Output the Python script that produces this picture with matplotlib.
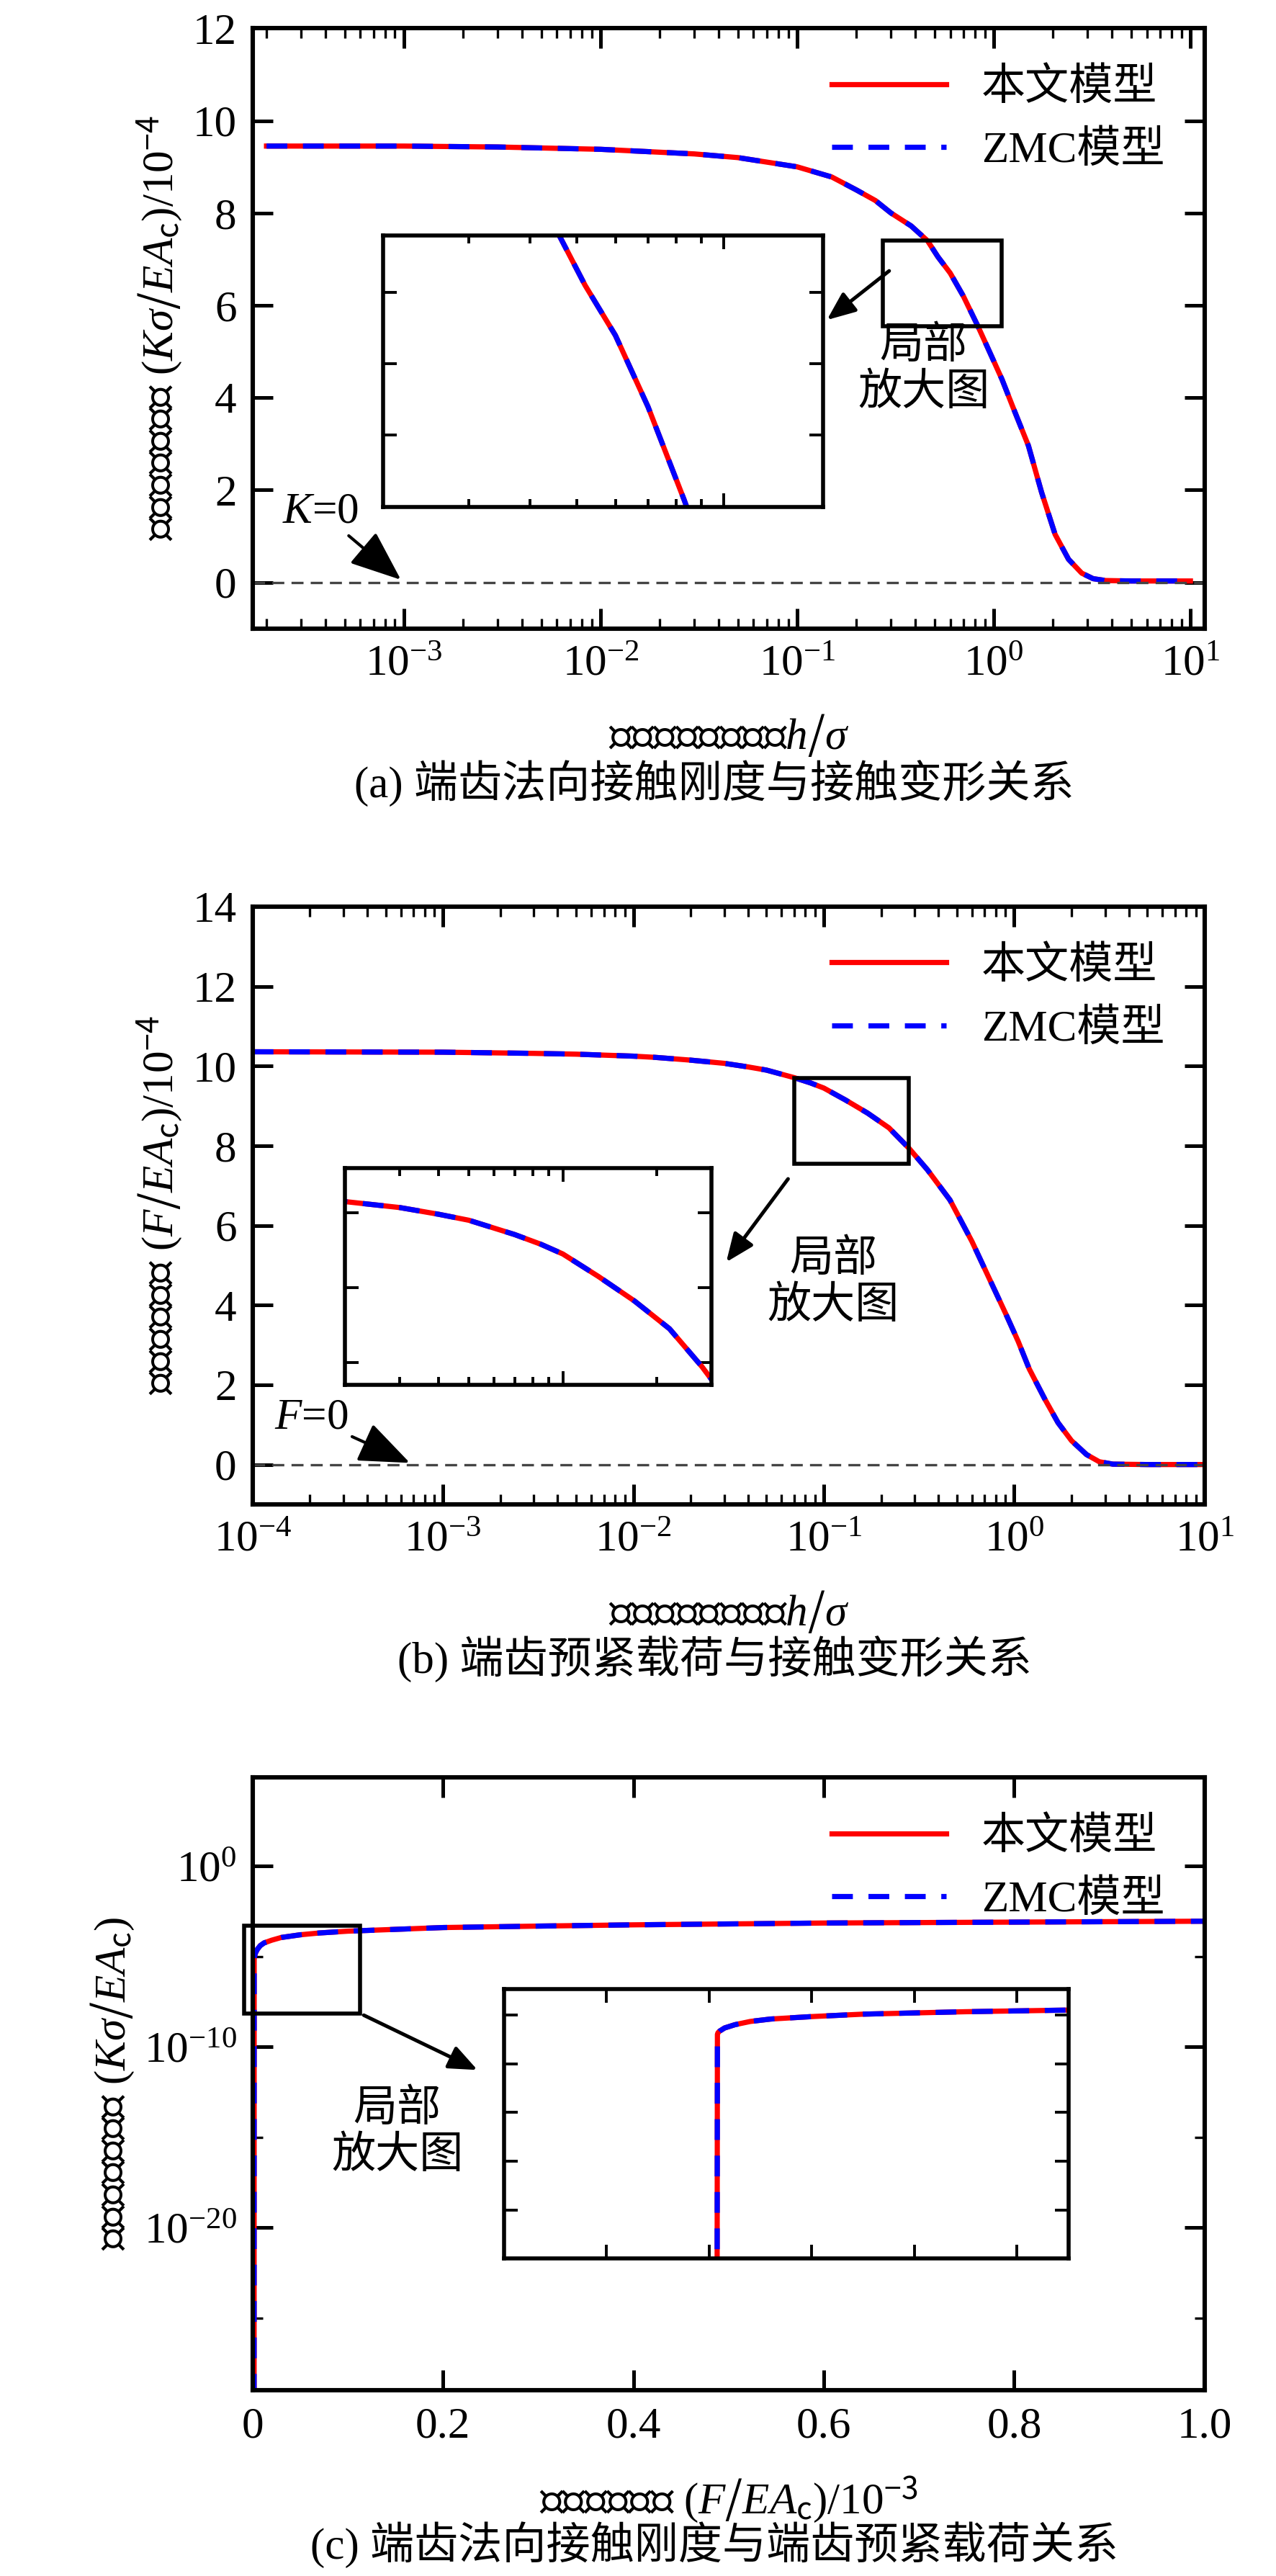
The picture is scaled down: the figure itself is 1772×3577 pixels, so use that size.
import matplotlib.pyplot as plt
import numpy as np

plt.rcParams['font.family'] = ['Liberation Serif', 'Noto Sans CJK SC']
plt.rcParams['mathtext.fontset'] = 'custom'
plt.rcParams['mathtext.rm'] = 'Noto Sans CJK SC'
plt.rcParams['mathtext.it'] = 'Liberation Serif:italic'
plt.rcParams['mathtext.bf'] = 'Liberation Serif:bold'
plt.rcParams['axes.unicode_minus'] = False

# --- data ---
h_a = [2e-4, 1e-3, 3e-3, 1e-2, 3e-2, 0.05, 0.1, 0.15, 0.2, 0.25, 0.3, 0.38, 0.46, 0.52, 0.6, 0.7,
       0.83, 0.95, 1.1, 1.25, 1.5, 1.75, 2.05, 2.4, 2.8, 3.2, 3.7, 5.0, 10.0]
K_a = [9.45, 9.45, 9.43, 9.38, 9.28, 9.2, 9.0, 8.78, 8.5, 8.27, 8.0, 7.72, 7.4, 7.05, 6.7, 6.2,
       5.55, 5.0, 4.4, 3.8, 2.96, 1.95, 1.04, 0.5, 0.2, 0.08, 0.04, 0.03, 0.03]

h_b = [1e-4, 1e-3, 3e-3, 5e-3, 1e-2, 0.013, 0.02, 0.03, 0.04, 0.05, 0.07, 0.085, 0.1, 0.13, 0.17,
       0.22, 0.28, 0.35, 0.46, 0.6, 0.76, 0.9, 1.05, 1.2, 1.45, 1.7, 2.0, 2.4, 2.8, 3.3, 5.0, 10.0]
F_b = [10.36, 10.35, 10.32, 10.3, 10.25, 10.22, 10.15, 10.07, 9.98, 9.9, 9.71, 9.58, 9.45, 9.15, 8.82,
       8.45, 7.94, 7.4, 6.64, 5.6, 4.55, 3.8, 3.09, 2.4, 1.64, 1.05, 0.6, 0.25, 0.07, 0.01, 0.0, 0.0]

F_c = [0.0, 0.0015, 0.0016, 0.0017, 0.002, 0.003, 0.005, 0.008, 0.012, 0.02, 0.03, 0.05, 0.07,
       0.1, 0.15, 0.2, 0.3, 0.4, 0.6, 0.8, 1.0]
logK_c = [-40, -30, -5.2, -5.1, -5.0, -4.8, -4.6, -4.4, -4.25, -4.1, -3.95, -3.8, -3.7,
          -3.6, -3.5, -3.4, -3.32, -3.25, -3.15, -3.1, -3.05]
K_c = [10.0 ** v for v in logK_c]

labels = ['本文模型', 'ZMC模型']
captions = ['(a) 端齿法向接触刚度与接触变形关系',
            '(b) 端齿预紧载荷与接触变形关系',
            '(c) 端齿法向接触刚度与端齿预紧载荷关系']

FS = 22
LW = 2.6


def two_curves(ax, x, y):
    ax.plot(x, y, color='red', lw=LW, label=labels[0])
    ax.plot(x, y, color='blue', lw=LW, ls=(0, (4, 3)), label=labels[1])


def style(ax, fs=FS, lw=2.2):
    ax.tick_params(which='both', direction='in', top=True, right=True, labelsize=fs)
    ax.tick_params(which='major', length=10, width=1.8, pad=8)
    ax.tick_params(which='minor', length=5, width=1.2)
    for s in ax.spines.values():
        s.set_linewidth(lw)


def inset(ax, rect, x, y, xlim, ylim, xlog=False, ylog=False):
    ia = ax.inset_axes(rect)
    two_curves(ia, x, y)
    if xlog:
        ia.set_xscale('log')
    if ylog:
        ia.set_yscale('log')
    ia.set_xlim(*xlim)
    ia.set_ylim(*ylim)
    ia.tick_params(which='both', direction='in', top=True, right=True,
                   labelbottom=False, labelleft=False, length=7, width=1.4)
    ia.tick_params(which='minor', length=4)
    for s in ia.spines.values():
        s.set_linewidth(2)
    return ia


def arrow(ax, xy, xytext):
    ax.annotate('', xy=xy, xycoords='axes fraction', xytext=xytext,
                arrowprops=dict(arrowstyle='-|>,head_width=0.5,head_length=1.2',
                                color='black', lw=1.8))


fig = plt.figure(figsize=(8.86, 17.885), dpi=200)
L, W = 0.198, 0.746

# ---------- (a) ----------
ax = fig.add_axes([L, 0.756, W, 0.233])
two_curves(ax, h_a, K_a)
ax.axhline(0, color='#444444', lw=1.2, ls=(0, (5, 3)))
ax.set_xscale('log')
ax.set_xlim(1.7e-4, 11.8)
ax.set_ylim(-1, 12)
ax.set_yticks(range(0, 13, 2))
style(ax)
ax.set_ylabel('无量纲接触刚度 ($K\\sigma/EA_{\\rm c}$)/10$^{-4}$', fontsize=FS)
ax.set_xlabel('无量纲接触变形量$h/\\sigma$', fontsize=FS, labelpad=14)
ax.legend(loc='upper right', fontsize=FS, frameon=False, handlelength=2.6)
inset(ax, [0.137, 0.203, 0.462, 0.452], h_a, K_a, (0.2, 1.6), (5.5, 7.4), xlog=True)
ax.add_patch(plt.Rectangle((0.272, 5.55), 1.10 - 0.272, 7.41 - 5.55, fill=False, lw=2, zorder=5))
arrow(ax, (0.6, 0.51), (0.672, 0.6))
ax.text(0.705, 0.43, '局部\n放大图', transform=ax.transAxes, fontsize=FS, ha='center', va='center',
        linespacing=1.2)
ax.annotate('$K$=0', xy=(1.0e-3, 0), xytext=(2.4e-4, 1.3), fontsize=FS,
            arrowprops=dict(arrowstyle='-|>,head_width=0.4,head_length=1.0', color='black', lw=1.5,
                            shrinkA=0, shrinkB=2))

# ---------- (b) ----------
ax = fig.add_axes([L, 0.416, W, 0.232])
two_curves(ax, h_b, F_b)
ax.axhline(0, color='#444444', lw=1.2, ls=(0, (5, 3)))
ax.set_xscale('log')
ax.set_xlim(1e-4, 10)
ax.set_ylim(-1, 14)
ax.set_yticks(range(0, 15, 2))
style(ax)
ax.set_ylabel('无量纲预紧力 ($F/EA_{\\rm c}$)/10$^{-4}$', fontsize=FS)
ax.set_xlabel('无量纲接触变形量$h/\\sigma$', fontsize=FS, labelpad=14)
ax.legend(loc='upper right', fontsize=FS, frameon=False, handlelength=2.6)
inset(ax, [0.097, 0.2, 0.385, 0.363], h_b, F_b, (0.02, 0.3), (7.7, 10.6), xlog=True)
ax.add_patch(plt.Rectangle((0.07, 7.55), 0.28 - 0.07, 9.7 - 7.55, fill=False, lw=2, zorder=5))
arrow(ax, (0.495, 0.4), (0.565, 0.55))
ax.text(0.61, 0.37, '局部\n放大图', transform=ax.transAxes, fontsize=FS, ha='center', va='center',
        linespacing=1.2)
ax.annotate('$F$=0', xy=(7.0e-4, 0), xytext=(1.3e-4, 0.9), fontsize=FS,
            arrowprops=dict(arrowstyle='-|>,head_width=0.4,head_length=1.0', color='black', lw=1.5,
                            shrinkA=0, shrinkB=2))

# ---------- (c) ----------
ax = fig.add_axes([L, 0.072, W, 0.238])
two_curves(ax, F_c, K_c)
ax.set_yscale('log')
ax.set_xlim(0, 1.0)
ax.set_ylim(1e-29, 10 ** 4.9)
ax.set_yticks([1e-20, 1e-10, 1e0])
ax.set_yticks([1e-25, 1e-15, 1e-5], minor=True)
ax.set_yticklabels([], minor=True)
ax.set_xticks([0, 0.2, 0.4, 0.6, 0.8, 1.0])
ax.set_xticklabels(['0', '0.2', '0.4', '0.6', '0.8', '1.0'])
style(ax)
ax.set_ylabel('无量纲接触刚度 ($K\\sigma/EA_{\\rm c}$)', fontsize=FS)
ax.set_xlabel('无量纲预紧力 ($F/EA_{\\rm c}$)/10$^{-3}$', fontsize=FS, labelpad=14)
ax.legend(loc='upper right', fontsize=FS, frameon=False, handlelength=2.6)
inset(ax, [0.264, 0.215, 0.593, 0.44], F_c, K_c, (-0.04, 0.07), (1e-19, 10 ** -2.4), ylog=True)
ax.add_patch(plt.Rectangle((-0.009, 10 ** -8.15), 0.122, 10 ** -3.3 - 10 ** -8.15, fill=False,
                           lw=2, zorder=5, clip_on=False))
arrow(ax, (0.24, 0.52), (0.113, 0.615))
ax.text(0.152, 0.42, '局部\n放大图', transform=ax.transAxes, fontsize=FS, ha='center', va='center',
        linespacing=1.2)

for y, c in zip([0.696, 0.356, 0.012], captions):
    fig.text(0.56, y, c, ha='center', va='center', fontsize=FS)

fig.savefig('out.png', dpi=200)
